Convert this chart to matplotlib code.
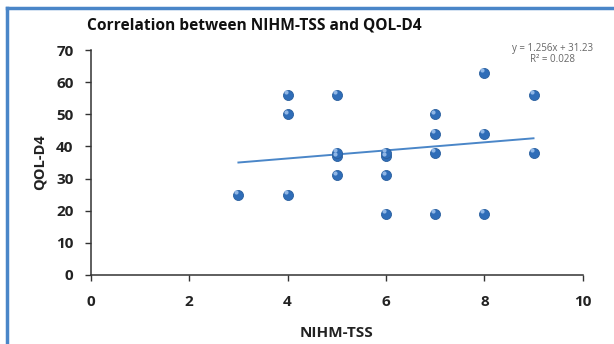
import matplotlib
matplotlib.use('Agg')
import matplotlib.pyplot as plt
import numpy as np
from matplotlib.lines import Line2D

# Данные
nihm_tss = [3, 4, 4, 4, 5, 5, 5, 5, 6, 6, 6, 6, 7, 7, 7, 7, 8, 8, 8, 9, 9]
qol_d4 = [25, 25, 50, 56, 31, 37, 38, 56, 19, 31, 37, 38, 19, 38, 44, 50, 19, 44, 63, 38, 56]

# Линия тренда (коэффициенты с графика)
slope = 1.256
intercept = 31.23
r2 = 0.028

x_ticks = [0, 2, 4, 6, 8, 10]
y_ticks = [0, 10, 20, 30, 40, 50, 60, 70]

plt.rcParams['font.family'] = ['Open Sans', 'DejaVu Sans']

fig = plt.figure(figsize=(6.14, 3.44), dpi=100)
ax = fig.add_axes([0.148, 0.2006, 0.801, 0.654])

# Точки
ax.scatter(nihm_tss, qol_d4, s=52, color='#2f6db8', edgecolor='#2a5f9e',
           linewidth=0.6, zorder=3)
ax.scatter(np.array(nihm_tss) - 0.04, np.array(qol_d4) + 0.8, s=9,
           color='#8fb6e6', linewidth=0, zorder=4)

# Линия тренда
xs = np.array([min(nihm_tss), max(nihm_tss)])
ax.plot(xs, slope * xs + intercept, color='#4a86c8', linewidth=1.4, zorder=2)

ax.set_xlim(0, 10)
ax.set_ylim(0, 70)
ax.set_xticks(x_ticks)
ax.set_yticks(y_ticks)
ax.tick_params(direction='out', length=4, width=1, colors='#333333',
               labelsize=11, labelcolor='#222222')
for lbl in ax.get_xticklabels() + ax.get_yticklabels():
    lbl.set_fontweight('bold')
ax.tick_params(axis='x', pad=10.5)
ax.tick_params(axis='y', pad=8.5)

for s in ['top', 'right']:
    ax.spines[s].set_visible(False)
for s in ['left', 'bottom']:
    ax.spines[s].set_color('#333333')
    ax.spines[s].set_linewidth(1.1)

ax.set_xlabel('NIHM-TSS', fontsize=11, fontweight='bold', color='#222222')
ax.xaxis.set_label_coords(0.5, -0.228)
ax.set_ylabel('QOL-D4', fontsize=10.5, fontweight='bold', color='#222222')
ax.yaxis.set_label_coords(-0.0894, 0.5)

fig.text(0.414, 0.927, 'Correlation between NIHM-TSS and QOL-D4',
         ha='center', va='center', fontsize=11.2, fontweight='bold', color='#111111')

fig.text(0.9, 0.860, 'y = %.3fx + %.2f' % (slope, intercept),
         ha='center', va='center', fontsize=7, color='#666666')
fig.text(0.9, 0.826, 'R² = %.3f' % r2,
         ha='center', va='center', fontsize=7, color='#666666')

# Синяя рамка сверху и слева
fig.add_artist(Line2D([0.0114, 1.0], [0.977, 0.977], transform=fig.transFigure,
                      color='#4a86c8', linewidth=2.5))
fig.add_artist(Line2D([0.0114, 0.0114], [0.0, 0.977], transform=fig.transFigure,
                      color='#4a86c8', linewidth=2.5))

fig.savefig('out.png', dpi=100)
